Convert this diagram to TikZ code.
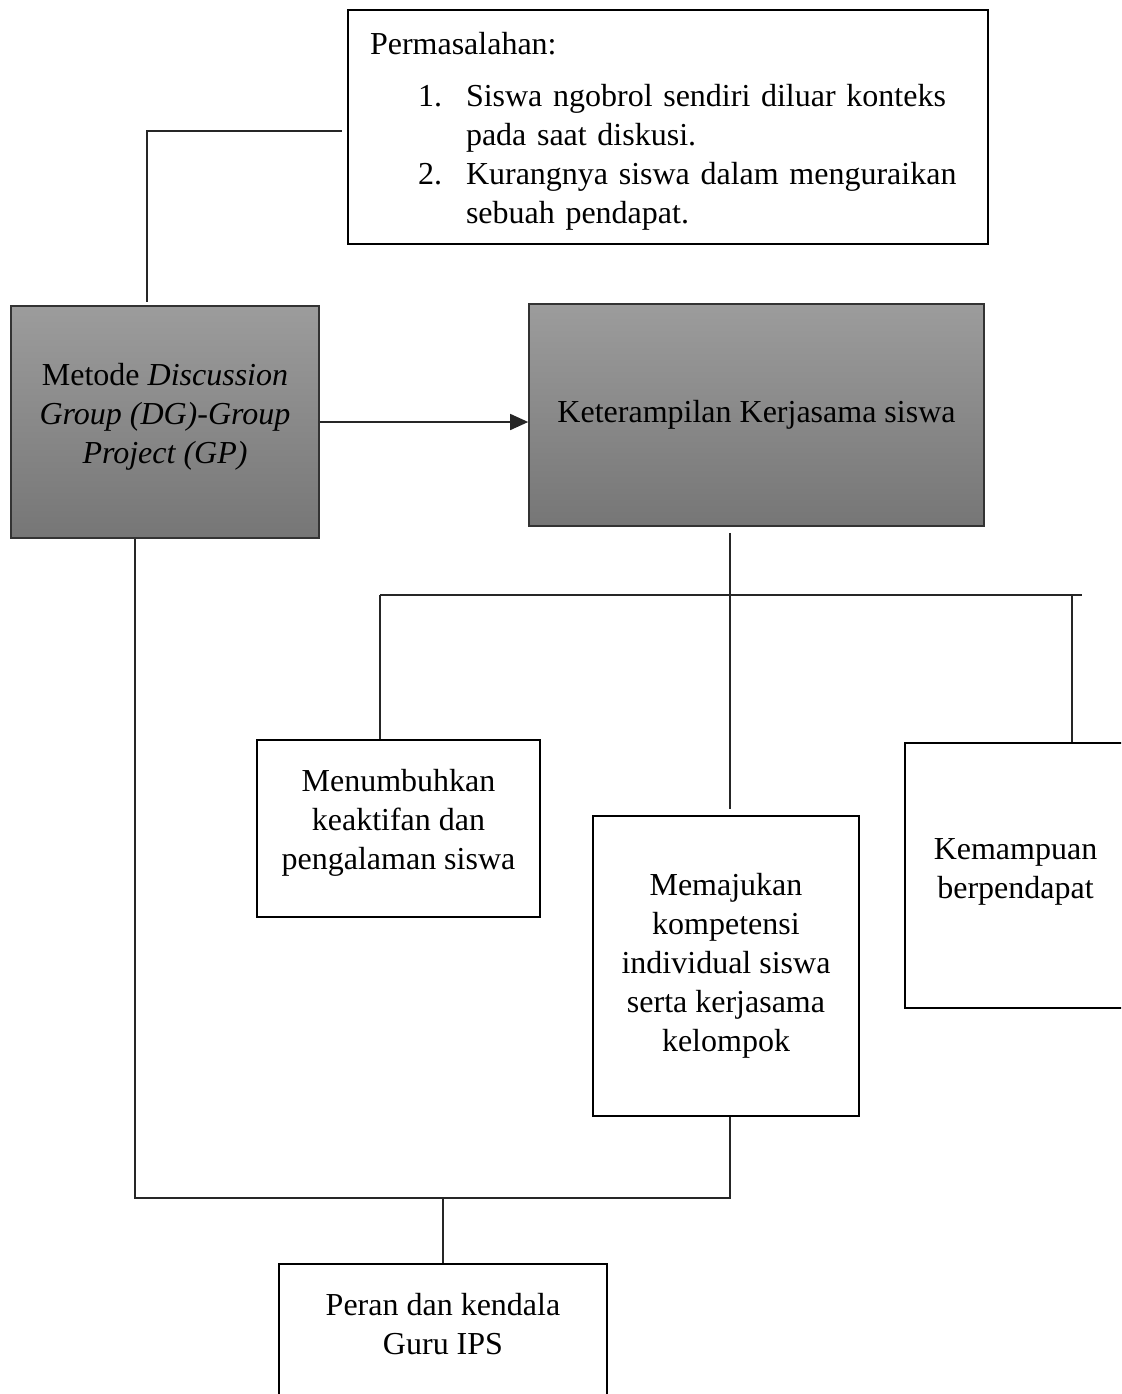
\documentclass[tikz,border=0pt]{standalone}
\usepackage{fontspec}
\setmainfont{Liberation Serif}
\usetikzlibrary{arrows.meta}
\definecolor{gtop}{HTML}{9C9C9C}
\definecolor{gbot}{HTML}{767676}
\begin{document}
\begin{tikzpicture}[x=0.5pt,y=-0.5pt]
\tikzstyle{every node}=[font=\fontsize{16}{19.5}\selectfont,align=center]
\tikzstyle{wbox}=[draw,line width=1.3pt,fill=white]
\tikzstyle{gbox}=[draw=black!80,line width=0.8pt,top color=gtop,bottom color=gbot]
\tikzstyle{conn}=[line width=0.75pt,black!85]
\useasboundingbox (0,0) rectangle (1121,1394);
\clip (0,0) rectangle (1121,1394);
\node[wbox,align=left,text width=298pt,inner xsep=11pt,minimum height=117pt](prob) at (668,127) {\rule{0pt}{15pt}Permasalahan:\\[6.5pt]
\hspace*{24pt}\makebox[24pt][l]{1.}Siswa ngobrol sendiri diluar konteks\\
\hspace*{48pt}pada saat diskusi.\\
\hspace*{24pt}\makebox[24pt][l]{2.}Kurangnya siswa dalam menguraikan\\
\hspace*{48pt}sebuah pendapat.};
\node[gbox,minimum width=154pt,minimum height=116pt](metode) at (165,422) {Metode \textit{Discussion}\\\textit{Group (DG)-Group}\\\textit{Project (GP)}\rule[-9pt]{0pt}{0pt}};
\node[gbox,minimum width=227.5pt,minimum height=111pt](ket) at (756.5,415) {Keterampilan Kerjasama siswa};
\node[wbox,minimum width=141.5pt,minimum height=88.5pt](tumbuh) at (398.5,828.5) {Menumbuhkan\\keaktifan dan\\pengalaman siswa\rule[-9pt]{0pt}{0pt}};
\node[wbox,minimum width=133pt,minimum height=150pt](maju) at (726,966) {Memajukan\\kompetensi\\individual siswa\\serta kerjasama\\kelompok};
\node[wbox,minimum width=110.5pt,minimum height=132.5pt](mampu) at (1015.5,875.5) {Kemampuan\\berpendapat\rule[-7pt]{0pt}{0pt}};
\node[wbox,minimum width=164pt,minimum height=100pt](guru) at (443,1364) {};
\node(gurutext) at (443,1324) {Peran dan kendala\\Guru IPS};
\coordinate (c1) at (147,302);
\coordinate (bl) at (380,595);
\coordinate (br) at (1082,595);
\coordinate (bv) at (1072,595);
\coordinate (d1) at (135,1198);
\draw[conn,shorten <=2.5pt] ([yshift=-2pt]prob.west) -| (c1);
\draw[conn,-{Triangle[length=9pt,width=8pt]}] (metode.east) -- (metode.east -| ket.west);
\draw[conn] ([xshift=2pt,yshift=-3pt]ket.south -| maju.north) -- ([xshift=2pt,yshift=3pt]maju.north);
\draw[conn] (bl) -- (br);
\draw[conn] (bl) -- (bl |- tumbuh.north);
\draw[conn] (bv) -- (bv |- mampu.north);
\draw[conn] (metode.south -| d1) -- (d1) -- ([xshift=2pt]d1 -| maju.south) -- ([xshift=2pt]maju.south);
\draw[conn] (guru.north |- d1) -- (guru.north);
\end{tikzpicture}
\end{document}
